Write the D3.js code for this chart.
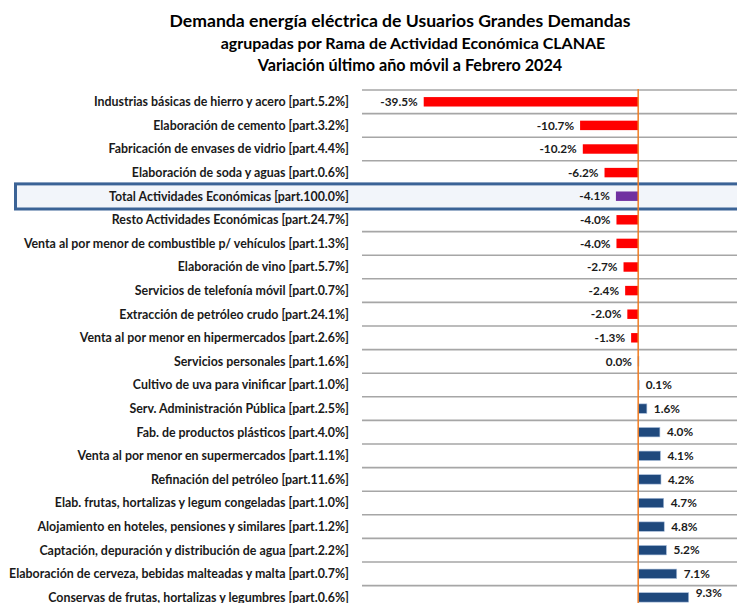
<!DOCTYPE html>
<html>
<head>
<meta charset="utf-8">
<script src="https://cdn.jsdelivr.net/npm/d3@7"></script>
<style>
  body { margin: 0; background: #fff; }
  svg { display: block; font-family: Lato, "Open Sans", sans-serif; }
</style>
</head>
<body>
<svg id="chart" width="737" height="603"></svg>
<script>
/* Demanda GUDE por rama CLANAE */
const names = [
  "Industrias básicas de hierro y acero",
  "Elaboración de cemento",
  "Fabricación de envases de vidrio",
  "Elaboración de soda y aguas",
  "Total Actividades Económicas",
  "Resto Actividades Económicas",
  "Venta al por menor de combustible p/ vehículos",
  "Elaboración de vino",
  "Servicios de telefonía móvil",
  "Extracción de petróleo crudo",
  "Venta al por menor en hipermercados",
  "Servicios personales",
  "Cultivo de uva para vinificar",
  "Serv. Administración Pública",
  "Fab. de productos plásticos ",
  "Venta al por menor en supermercados",
  "Refinación del petróleo",
  "Elab. frutas, hortalizas y legum congeladas",
  "Alojamiento en hoteles, pensiones y similares",
  "Captación, depuración y distribución de agua",
  "Elaboración de cerveza, bebidas malteadas y malta",
  "Conservas de frutas, hortalizas y legumbres"
]
const shares = [5.2, 3.2, 4.4, 0.6, 100.0, 24.7, 1.3, 5.7, 0.7, 24.1, 2.6,
                1.6, 1.0, 2.5, 4.0, 1.1, 11.6, 1.0, 1.2, 2.2, 0.7, 0.6]
const values = [-39.5, -10.7, -10.2, -6.2, -4.1, -4.0, -4.0, -2.7, -2.4, -2.0, -1.3,
                -0.04, 0.1, 1.6, 4.0, 4.1, 4.2, 4.7, 4.8, 5.2, 7.1, 9.3]
const totalName = "Total Actividades Económicas"

const titles = [
  "Demanda energía eléctrica de Usuarios Grandes Demandas",
  "agrupadas por Rama de Actividad Económica CLANAE",
  "Variación último año móvil a Febrero 2024"
]

const data = names.map((n, i) => ({
  name: n,
  label: n + " [part." + shares[i].toFixed(1) + "%]",
  value: values[i]
}))

const svg = d3.select("#chart")

const x = d3.scaleLinear().domain([-40, 18.2]).range([421, 737])
const y = d3.scaleBand()
  .domain(data.map(d => d.name))
  .range([90, 90 + 23.6 * data.length])
  .paddingInner(0.6)
  .paddingOuter(0.3)

const step = y.step()
const rowTop = d => y(d.name) - step * 0.3

// titles
svg.selectAll("text.title")
  .data(titles)
  .enter()
  .append("text")
  .attr("class", "title")
  .attr("x", (d, i) => [400, 413, 410][i])
  .attr("y", (d, i) => [27, 49, 71][i])
  .attr("text-anchor", "middle")
  .attr("font-weight", "bold")
  .attr("font-size", (d, i) => [17.6, 16, 16.2][i])
  .attr("fill", "#000")
  .text(d => d)

// row separators
const seps = d3.range(data.length + 1).map(i => 90 + i * step)
svg.selectAll("line.sep")
  .data(seps)
  .enter()
  .append("line")
  .attr("class", "sep")
  .attr("x1", 362).attr("x2", 737)
  .attr("y1", d => d).attr("y2", d => d)
  .attr("stroke", "#a6a6a6")
  .attr("stroke-width", 1.6)

// highlight total row
const tot = data.find(d => d.name === totalName)
svg.append("rect")
  .attr("x", 15.5)
  .attr("y", rowTop(tot) - 0.5)
  .attr("width", 740)
  .attr("height", step + 1.5)
  .attr("fill", "#f2f5fa")
  .attr("stroke", "#3b6396")
  .attr("stroke-width", 3)

// category labels
svg.selectAll("text.cat")
  .data(data)
  .enter()
  .append("text")
  .attr("class", "cat")
  .attr("x", 349)
  .attr("y", d => y(d.name) + y.bandwidth() / 2)
  .attr("dy", "0.36em")
  .attr("text-anchor", "end")
  .attr("font-weight", "bold")
  .attr("font-size", 12.4)
  .attr("fill", "#1a1a1a")
  .text(d => d.label)

// bars
const barColor = d => d.name === totalName ? "#7030a0" : (d.value < -0.05 ? "#ff0000" : "#1f497d")
svg.selectAll("rect.bar")
  .data(data)
  .enter()
  .append("rect")
  .attr("class", "bar")
  .attr("x", d => x(Math.min(0, d.value)))
  .attr("y", d => y(d.name))
  .attr("width", d => Math.max(1, Math.abs(x(d.value) - x(0))))
  .attr("height", y.bandwidth())
  .attr("fill", barColor)
  .attr("stroke", d => d.value < -0.05 ? "none" : "#a9bedb")
  .attr("stroke-width", 0.6)

// zero line
svg.append("line")
  .attr("x1", x(0)).attr("x2", x(0))
  .attr("y1", 89).attr("y2", 603)
  .attr("stroke", "#f07c22")
  .attr("stroke-width", 1.5)

// value labels
const fmt = v => (Math.abs(v) < 0.05 ? -0 : v).toFixed(1) + "%"
svg.selectAll("text.val")
  .data(data)
  .enter()
  .append("text")
  .attr("class", "val")
  .attr("x", d => d.value < 0 ? x(d.value) - 6 : x(d.value) + 7)
  .attr("y", (d, i) => y(d.name) + y.bandwidth() / 2 - (i === data.length - 1 ? 5 : 0))
  .attr("dy", "0.36em")
  .attr("text-anchor", d => d.value < 0 ? "end" : "start")
  .attr("font-weight", "bold")
  .attr("font-size", 11.8)
  .attr("fill", "#1a1a1a")
  .text(d => fmt(d.value))
</script>
</body>
</html>
